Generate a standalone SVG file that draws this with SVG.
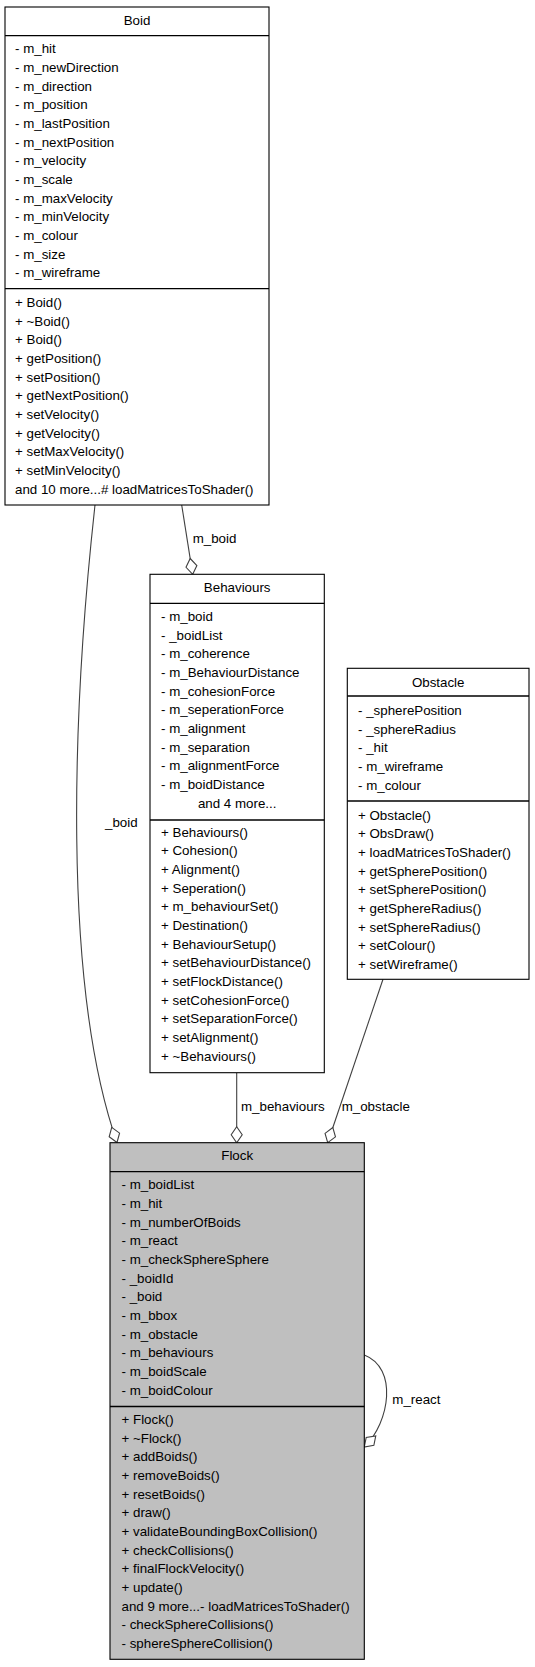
<svg xmlns="http://www.w3.org/2000/svg" width="535" height="1667" viewBox="0 0 535 1667">
<style>
text{font-family:"Liberation Sans",Arial,sans-serif;font-size:13.33px;fill:#000}
.box{fill:#fff;stroke:#000;stroke-width:1.1}
.grey{fill:#bfbfbf}
.sep{stroke:#000;stroke-width:1.3}
.mid{text-anchor:middle}
.edge{fill:none;stroke:#404040;stroke-width:1.1;marker-end:url(#odia)}
</style>
<defs>
<marker id="odia" markerUnits="userSpaceOnUse" markerWidth="20" markerHeight="14" viewBox="-1 -7 18 14" refX="16" refY="0" orient="auto">
<path d="M0,0 L8,-5.5 L16,0 L8,5.5 Z" fill="#fff" stroke="#404040" stroke-width="1.1"/>
</marker>
</defs>
<g id="connectors">
<path class="edge" d="M181.7,505 L192.7,574.3"/>
<text x="192.7" y="543.3">m_boid</text>
<path class="edge" d="M95,505 C73,705 61,982 117,1142.5"/>
<text x="105" y="826.7">_boid</text>
<path class="edge" d="M236.7,1072.7 L236.7,1142.7"/>
<text x="241" y="1110.7">m_behaviours</text>
<path class="edge" d="M383,979.3 L327.7,1142.7"/>
<text x="341.7" y="1110.7">m_obstacle</text>
<path class="edge" d="M364.3,1355 C398,1368 390,1422 364.3,1447"/>
<text x="392.3" y="1404">m_react</text>
</g>
<g id="Boid">
<rect class="box" x="5" y="7" width="264" height="498"/>
<line class="sep" x1="5" y1="35.7" x2="269" y2="35.7"/>
<line class="sep" x1="5" y1="288.7" x2="269" y2="288.7"/>
<text class="mid" x="137" y="25">Boid</text>
<text x="15" y="53.3">- m_hit<tspan x="15" dy="18.67">- m_newDirection</tspan><tspan x="15" dy="18.67">- m_direction</tspan><tspan x="15" dy="18.67">- m_position</tspan><tspan x="15" dy="18.67">- m_lastPosition</tspan><tspan x="15" dy="18.67">- m_nextPosition</tspan><tspan x="15" dy="18.67">- m_velocity</tspan><tspan x="15" dy="18.67">- m_scale</tspan><tspan x="15" dy="18.67">- m_maxVelocity</tspan><tspan x="15" dy="18.67">- m_minVelocity</tspan><tspan x="15" dy="18.67">- m_colour</tspan><tspan x="15" dy="18.67">- m_size</tspan><tspan x="15" dy="18.67">- m_wireframe</tspan></text>
<text x="15" y="307">+ Boid()<tspan x="15" dy="18.67">+ ~Boid()</tspan><tspan x="15" dy="18.67">+ Boid()</tspan><tspan x="15" dy="18.67">+ getPosition()</tspan><tspan x="15" dy="18.67">+ setPosition()</tspan><tspan x="15" dy="18.67">+ getNextPosition()</tspan><tspan x="15" dy="18.67">+ setVelocity()</tspan><tspan x="15" dy="18.67">+ getVelocity()</tspan><tspan x="15" dy="18.67">+ setMaxVelocity()</tspan><tspan x="15" dy="18.67">+ setMinVelocity()</tspan><tspan x="15" dy="18.67">and 10 more...# loadMatricesToShader()</tspan></text>
</g>
<g id="Behaviours">
<rect class="box" x="150" y="574.3" width="174.3" height="498.4"/>
<line class="sep" x1="150" y1="603.3" x2="324.3" y2="603.3"/>
<line class="sep" x1="150" y1="820" x2="324.3" y2="820"/>
<text class="mid" x="237.2" y="592.3">Behaviours</text>
<text x="161" y="621">- m_boid<tspan x="161" dy="18.67">- _boidList</tspan><tspan x="161" dy="18.67">- m_coherence</tspan><tspan x="161" dy="18.67">- m_BehaviourDistance</tspan><tspan x="161" dy="18.67">- m_cohesionForce</tspan><tspan x="161" dy="18.67">- m_seperationForce</tspan><tspan x="161" dy="18.67">- m_alignment</tspan><tspan x="161" dy="18.67">- m_separation</tspan><tspan x="161" dy="18.67">- m_alignmentForce</tspan><tspan x="161" dy="18.67">- m_boidDistance</tspan></text>
<text class="mid" x="237.2" y="807.7">and 4 more...</text>
<text x="161" y="836.7">+ Behaviours()<tspan x="161" dy="18.67">+ Cohesion()</tspan><tspan x="161" dy="18.67">+ Alignment()</tspan><tspan x="161" dy="18.67">+ Seperation()</tspan><tspan x="161" dy="18.67">+ m_behaviourSet()</tspan><tspan x="161" dy="18.67">+ Destination()</tspan><tspan x="161" dy="18.67">+ BehaviourSetup()</tspan><tspan x="161" dy="18.67">+ setBehaviourDistance()</tspan><tspan x="161" dy="18.67">+ setFlockDistance()</tspan><tspan x="161" dy="18.67">+ setCohesionForce()</tspan><tspan x="161" dy="18.67">+ setSeparationForce()</tspan><tspan x="161" dy="18.67">+ setAlignment()</tspan><tspan x="161" dy="18.67">+ ~Behaviours()</tspan></text>
</g>
<g id="Obstacle">
<rect class="box" x="347.3" y="668.3" width="181.7" height="311"/>
<line class="sep" x1="347.3" y1="696" x2="529" y2="696"/>
<line class="sep" x1="347.3" y1="801" x2="529" y2="801"/>
<text class="mid" x="438.2" y="686.5">Obstacle</text>
<text x="358" y="715">- _spherePosition<tspan x="358" dy="18.67">- _sphereRadius</tspan><tspan x="358" dy="18.67">- _hit</tspan><tspan x="358" dy="18.67">- m_wireframe</tspan><tspan x="358" dy="18.67">- m_colour</tspan></text>
<text x="358" y="819.7">+ Obstacle()<tspan x="358" dy="18.67">+ ObsDraw()</tspan><tspan x="358" dy="18.67">+ loadMatricesToShader()</tspan><tspan x="358" dy="18.67">+ getSpherePosition()</tspan><tspan x="358" dy="18.67">+ setSpherePosition()</tspan><tspan x="358" dy="18.67">+ getSphereRadius()</tspan><tspan x="358" dy="18.67">+ setSphereRadius()</tspan><tspan x="358" dy="18.67">+ setColour()</tspan><tspan x="358" dy="18.67">+ setWireframe()</tspan></text>
</g>
<g id="Flock">
<rect class="box grey" x="110" y="1142.7" width="254.3" height="516.6"/>
<line class="sep" x1="110" y1="1171.7" x2="364.3" y2="1171.7"/>
<line class="sep" x1="110" y1="1406.5" x2="364.3" y2="1406.5"/>
<text class="mid" x="237.2" y="1160">Flock</text>
<text x="121.5" y="1189.3">- m_boidList<tspan x="121.5" dy="18.67">- m_hit</tspan><tspan x="121.5" dy="18.67">- m_numberOfBoids</tspan><tspan x="121.5" dy="18.67">- m_react</tspan><tspan x="121.5" dy="18.67">- m_checkSphereSphere</tspan><tspan x="121.5" dy="18.67">- _boidId</tspan><tspan x="121.5" dy="18.67">- _boid</tspan><tspan x="121.5" dy="18.67">- m_bbox</tspan><tspan x="121.5" dy="18.67">- m_obstacle</tspan><tspan x="121.5" dy="18.67">- m_behaviours</tspan><tspan x="121.5" dy="18.67">- m_boidScale</tspan><tspan x="121.5" dy="18.67">- m_boidColour</tspan></text>
<text x="121.5" y="1424">+ Flock()<tspan x="121.5" dy="18.67">+ ~Flock()</tspan><tspan x="121.5" dy="18.67">+ addBoids()</tspan><tspan x="121.5" dy="18.67">+ removeBoids()</tspan><tspan x="121.5" dy="18.67">+ resetBoids()</tspan><tspan x="121.5" dy="18.67">+ draw()</tspan><tspan x="121.5" dy="18.67">+ validateBoundingBoxCollision()</tspan><tspan x="121.5" dy="18.67">+ checkCollisions()</tspan><tspan x="121.5" dy="18.67">+ finalFlockVelocity()</tspan><tspan x="121.5" dy="18.67">+ update()</tspan><tspan x="121.5" dy="18.67">and 9 more...- loadMatricesToShader()</tspan><tspan x="121.5" dy="18.67">- checkSphereCollisions()</tspan><tspan x="121.5" dy="18.67">- sphereSphereCollision()</tspan></text>
</g>
</svg>
